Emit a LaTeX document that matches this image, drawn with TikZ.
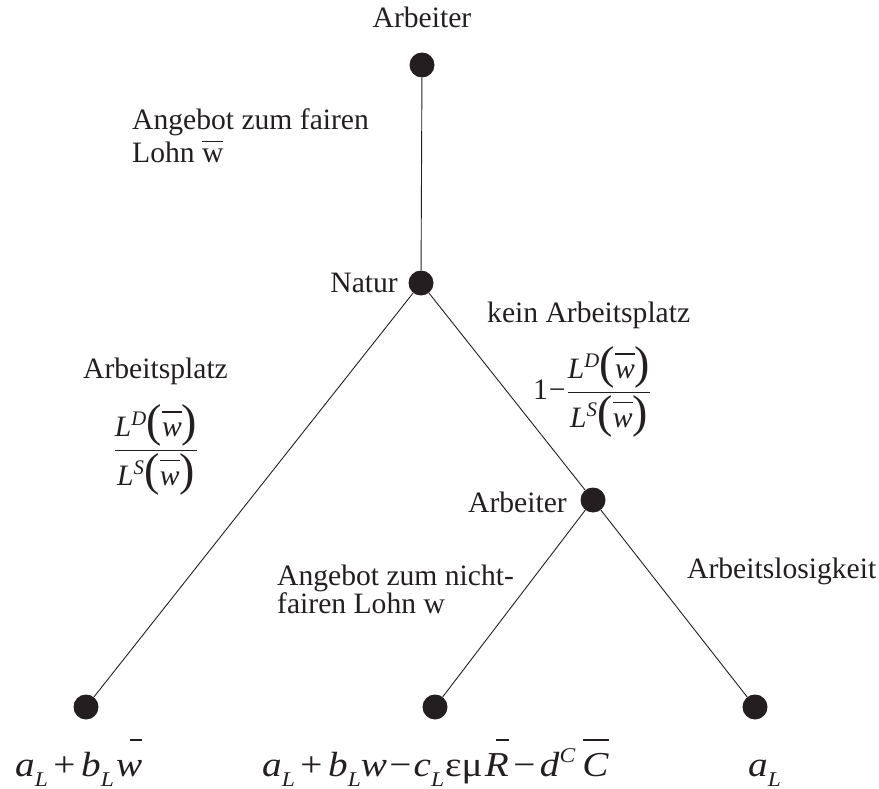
\RequirePackage{fix-cm}
\documentclass[tikz,border=0pt]{standalone}
\usepackage{amsmath}
\usepackage{graphicx}
\usepackage{fontspec}
\setmainfont{Liberation Serif}
\definecolor{ink}{RGB}{35,31,32}
\newcommand\mi[1]{\textit{#1}}
\newcommand\supi[1]{\textsuperscript{\mi{#1}}}
% overline placed at a fixed height above the baseline
\newcommand\ob[3][1.6pt]{\leavevmode\vbox{\hrule height #1\hbox{\vrule height #2 width 0pt depth 0pt#3}}}
% overline at height #2, starting #3 from the left edge of #4
\newsavebox\obbox
\newcommand\obr[4][2pt]{\sbox\obbox{#4}\leavevmode\rlap{\usebox\obbox}\kern#3\rule[#2]{\dimexpr\wd\obbox-#3\relax}{#1}}
\newcommand\bp[1]{{\fontsize{46}{46}\selectfont #1}}
\newcommand\LDw[1]{\mi{L}\supi{#1}\bp{(}\ob[1.3pt]{24pt}{\mi{w}}\bp{)}}
\newcommand\frLL{\ensuremath{\dfrac{\mbox{\LDw{D}}}{\mbox{\LDw{S}}}}}
\newcommand\sbL{\raisebox{-10pt}{\fontsize{21}{21}\selectfont\mi{L}}}
\newcommand\spC{\raisebox{14pt}{\fontsize{21}{21}\selectfont\mi{C}}}
\begin{document}
\begin{tikzpicture}[x=1pt,y=-1pt,
  dot/.style={circle,fill=ink,inner sep=0pt,minimum size=25pt},
  edge/.style={draw=ink,line width=0.9pt},
  lbl/.style={inner sep=0pt,font=\fontsize{29.6}{33}\selectfont,text=ink},
  formula/.style={inner sep=0pt,font=\fontsize{35}{40}\selectfont,text=ink}]
\useasboundingbox (0,0) rectangle (879,789);
% nodes
\node[dot] (root) at (422,65) {};
\node[dot] (natur) at (421,283) {};
\node[dot] (arb) at (593,500) {};
\node[dot] (l1) at (86,707) {};
\node[dot] (l2) at (435,707) {};
\node[dot] (l3) at (755,707) {};
% edges
\draw[edge] (root) -- (natur);
\draw[edge] (natur) -- (l1);
\draw[edge] (natur) -- (arb);
\draw[edge] (arb) -- (l2);
\draw[edge] (arb) -- (l3);
% labels
\node[lbl,anchor=base] (troot) at (422,28) {Arbeiter};
\node[lbl,anchor=base west] (tfairA) at (132,130) {Angebot zum fairen};
\node[lbl,anchor=base west] (tfairB) at (132,163) {Lohn \ob[1.3pt]{21pt}{w}};
\node[lbl,anchor=base east] (tnatur) at (398,292) {Natur};
\node[lbl,anchor=base west] (tplatz) at (83,378) {Arbeitsplatz};
\node[lbl,anchor=center] (fplatz) at (156,450) {\frLL};
\node[lbl,anchor=base west] (tkein) at (487,322) {kein Arbeitsplatz};
\node[lbl,anchor=west] (fkein) at (533,392) {1\kern1pt−\kern1pt\frLL};
\node[lbl,anchor=base east] (tarb) at (567,512) {Arbeiter};
\node[lbl,anchor=base west] (tnichtA) at (277,585) {Angebot zum nicht-};
\node[lbl,anchor=base west] (tnichtB) at (277,613) {fairen Lohn w};
\node[lbl,anchor=base west] (tlos) at (687,578) {Arbeitslosigkeit};
% payoffs
\node[formula,anchor=base west] (p1) at (15,776) {\scalebox{1.12}[1]{\mi{a}\sbL\kern5pt+\kern5pt\mi{b}\sbL\kern2pt\obr{35pt}{12pt}{\mi{w}}}};
\node[formula,anchor=base west] (p2) at (262,776) {\scalebox{1.12}[1]{\mi{a}\sbL\kern5pt+\kern5pt\mi{b}\sbL\mi{w}\kern2pt−\kern2pt\mi{c}\sbL\kern1pt εμ\kern2pt\obr{35pt}{10pt}{\mi{R}}\kern4pt−\kern4pt\mi{d}\spC\kern6pt\obr{35pt}{1pt}{\mi{C}}}};
\node[formula,anchor=base west] (p3) at (748,776) {\scalebox{1.12}[1]{\mi{a}\sbL}};
\end{tikzpicture}
\end{document}
